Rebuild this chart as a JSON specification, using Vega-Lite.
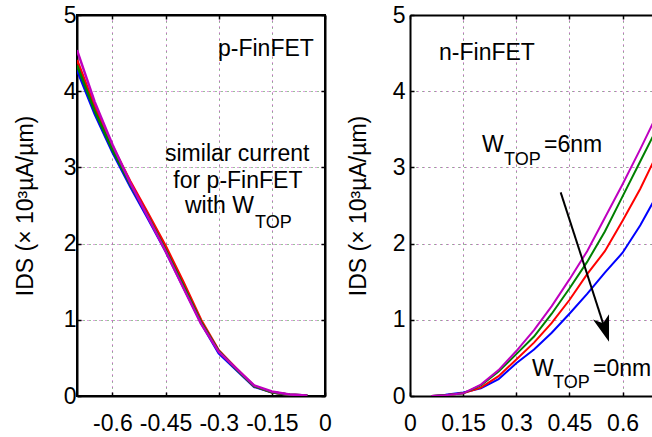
{
  "$schema": "https://vega.github.io/schema/vega-lite/v6.json",
  "padding": {"left": 13, "top": 3, "right": 0, "bottom": 0},
  "background": "white",
  "config": {
    "font": "Liberation Sans",
    "view": {"stroke": null},
    "axis": {
      "labelFont": "Liberation Sans", "labelFontSize": 23, "labelColor": "#000",
      "titleFont": "Liberation Sans", "titleFontSize": 23, "titleFontWeight": "normal", "titleColor": "#000",
      "domain": true, "domainColor": "#000", "domainWidth": 2, "tickColor": "#000", "tickWidth": 1.5, "tickSize": -4,
      "gridWidth": 1, "labelFlush": false, "labelOverlap": false
    },
    "text": {"font": "Liberation Sans", "color": "#000"}
  },
  "datasets": {
    "p": [
      {"W": "0nm", "v": -0.7, "I": 4.28}, {"W": "0nm", "v": -0.65, "I": 3.7}, {"W": "0nm", "v": -0.6, "I": 3.2}, {"W": "0nm", "v": -0.55, "I": 2.75}, {"W": "0nm", "v": -0.5, "I": 2.33}, {"W": "0nm", "v": -0.45, "I": 1.9}, {"W": "0nm", "v": -0.4, "I": 1.43}, {"W": "0nm", "v": -0.35, "I": 0.96}, {"W": "0nm", "v": -0.3, "I": 0.56}, {"W": "0nm", "v": -0.25, "I": 0.34}, {"W": "0nm", "v": -0.2, "I": 0.12}, {"W": "0nm", "v": -0.15, "I": 0.05}, {"W": "0nm", "v": -0.1, "I": 0.015}, {"W": "0nm", "v": -0.05, "I": 0.005},
      {"W": "2nm", "v": -0.7, "I": 4.41}, {"W": "2nm", "v": -0.65, "I": 3.8}, {"W": "2nm", "v": -0.6, "I": 3.28}, {"W": "2nm", "v": -0.55, "I": 2.82}, {"W": "2nm", "v": -0.5, "I": 2.4}, {"W": "2nm", "v": -0.45, "I": 1.97}, {"W": "2nm", "v": -0.4, "I": 1.5}, {"W": "2nm", "v": -0.35, "I": 1.0}, {"W": "2nm", "v": -0.3, "I": 0.6}, {"W": "2nm", "v": -0.25, "I": 0.36}, {"W": "2nm", "v": -0.2, "I": 0.13}, {"W": "2nm", "v": -0.15, "I": 0.05}, {"W": "2nm", "v": -0.1, "I": 0.015}, {"W": "2nm", "v": -0.05, "I": 0.005},
      {"W": "4nm", "v": -0.7, "I": 4.34}, {"W": "4nm", "v": -0.65, "I": 3.74}, {"W": "4nm", "v": -0.6, "I": 3.23}, {"W": "4nm", "v": -0.55, "I": 2.78}, {"W": "4nm", "v": -0.5, "I": 2.36}, {"W": "4nm", "v": -0.45, "I": 1.92}, {"W": "4nm", "v": -0.4, "I": 1.45}, {"W": "4nm", "v": -0.35, "I": 0.97}, {"W": "4nm", "v": -0.3, "I": 0.59}, {"W": "4nm", "v": -0.25, "I": 0.35}, {"W": "4nm", "v": -0.2, "I": 0.13}, {"W": "4nm", "v": -0.15, "I": 0.05}, {"W": "4nm", "v": -0.1, "I": 0.015}, {"W": "4nm", "v": -0.05, "I": 0.005},
      {"W": "6nm", "v": -0.7, "I": 4.54}, {"W": "6nm", "v": -0.65, "I": 3.86}, {"W": "6nm", "v": -0.6, "I": 3.3}, {"W": "6nm", "v": -0.55, "I": 2.8}, {"W": "6nm", "v": -0.5, "I": 2.35}, {"W": "6nm", "v": -0.45, "I": 1.9}, {"W": "6nm", "v": -0.4, "I": 1.42}, {"W": "6nm", "v": -0.35, "I": 0.95}, {"W": "6nm", "v": -0.3, "I": 0.58}, {"W": "6nm", "v": -0.25, "I": 0.36}, {"W": "6nm", "v": -0.2, "I": 0.14}, {"W": "6nm", "v": -0.15, "I": 0.06}, {"W": "6nm", "v": -0.1, "I": 0.02}, {"W": "6nm", "v": -0.05, "I": 0.005}
    ],
    "n": [
      {"W": "0nm", "v": 0.065, "I": 0.0}, {"W": "0nm", "v": 0.1, "I": 0.015}, {"W": "0nm", "v": 0.15, "I": 0.045}, {"W": "0nm", "v": 0.2, "I": 0.1}, {"W": "0nm", "v": 0.25, "I": 0.22}, {"W": "0nm", "v": 0.3, "I": 0.43}, {"W": "0nm", "v": 0.35, "I": 0.61}, {"W": "0nm", "v": 0.4, "I": 0.83}, {"W": "0nm", "v": 0.45, "I": 1.08}, {"W": "0nm", "v": 0.5, "I": 1.34}, {"W": "0nm", "v": 0.55, "I": 1.62}, {"W": "0nm", "v": 0.6, "I": 1.88}, {"W": "0nm", "v": 0.65, "I": 2.24}, {"W": "0nm", "v": 0.7, "I": 2.66},
      {"W": "2nm", "v": 0.06, "I": 0.0}, {"W": "2nm", "v": 0.1, "I": 0.01}, {"W": "2nm", "v": 0.15, "I": 0.035}, {"W": "2nm", "v": 0.2, "I": 0.11}, {"W": "2nm", "v": 0.25, "I": 0.26}, {"W": "2nm", "v": 0.3, "I": 0.48}, {"W": "2nm", "v": 0.35, "I": 0.7}, {"W": "2nm", "v": 0.4, "I": 0.96}, {"W": "2nm", "v": 0.45, "I": 1.26}, {"W": "2nm", "v": 0.5, "I": 1.6}, {"W": "2nm", "v": 0.55, "I": 1.9}, {"W": "2nm", "v": 0.6, "I": 2.3}, {"W": "2nm", "v": 0.65, "I": 2.72}, {"W": "2nm", "v": 0.7, "I": 3.2},
      {"W": "4nm", "v": 0.06, "I": 0.0}, {"W": "4nm", "v": 0.1, "I": 0.01}, {"W": "4nm", "v": 0.15, "I": 0.035}, {"W": "4nm", "v": 0.2, "I": 0.14}, {"W": "4nm", "v": 0.25, "I": 0.32}, {"W": "4nm", "v": 0.3, "I": 0.55}, {"W": "4nm", "v": 0.35, "I": 0.78}, {"W": "4nm", "v": 0.4, "I": 1.08}, {"W": "4nm", "v": 0.45, "I": 1.41}, {"W": "4nm", "v": 0.5, "I": 1.76}, {"W": "4nm", "v": 0.55, "I": 2.16}, {"W": "4nm", "v": 0.6, "I": 2.62}, {"W": "4nm", "v": 0.65, "I": 3.08}, {"W": "4nm", "v": 0.7, "I": 3.54},
      {"W": "6nm", "v": 0.06, "I": 0.0}, {"W": "6nm", "v": 0.1, "I": 0.01}, {"W": "6nm", "v": 0.15, "I": 0.035}, {"W": "6nm", "v": 0.2, "I": 0.15}, {"W": "6nm", "v": 0.25, "I": 0.34}, {"W": "6nm", "v": 0.3, "I": 0.59}, {"W": "6nm", "v": 0.35, "I": 0.865}, {"W": "6nm", "v": 0.4, "I": 1.18}, {"W": "6nm", "v": 0.45, "I": 1.53}, {"W": "6nm", "v": 0.5, "I": 1.9}, {"W": "6nm", "v": 0.55, "I": 2.34}, {"W": "6nm", "v": 0.6, "I": 2.78}, {"W": "6nm", "v": 0.65, "I": 3.24}, {"W": "6nm", "v": 0.7, "I": 3.72}
    ],
    "notes": [
      {"panel": "p", "text": "p-FinFET", "v": -0.302, "I": 4.46},
      {"panel": "p", "text": "similar current", "v": -0.4516, "I": 3.09},
      {"panel": "p", "text": "for p-FinFET", "v": -0.428, "I": 2.73},
      {"panel": "p", "text": "with W", "v": -0.3952, "I": 2.4},
      {"panel": "n", "text": "n-FinFET", "v": 0.082, "I": 4.416},
      {"panel": "n", "text": "W", "v": 0.2032, "I": 3.198},
      {"panel": "n", "text": "=6nm", "v": 0.3782, "I": 3.198},
      {"panel": "n", "text": "W", "v": 0.3443, "I": 0.266},
      {"panel": "n", "text": "=0nm", "v": 0.5165, "I": 0.266}
    ],
    "subs": [
      {"panel": "p", "text": "TOP", "v": -0.1975, "I": 2.21},
      {"panel": "n", "text": "TOP", "v": 0.2653, "I": 3.035},
      {"panel": "n", "text": "TOP", "v": 0.4036, "I": 0.101}
    ],
    "arrow": [
      {"v": 0.4253, "I": 2.673, "v2": 0.5504, "I2": 0.875}
    ]
  },
  "spacing": 14,
  "hconcat": [
    {
      "width": 248, "height": 381,
      "view": {"stroke": "#000", "strokeWidth": 2},
      "layer": [
        {
          "layer": [
            {
              "data": {"name": "p"},
              "mark": {"type": "line", "strokeWidth": 2.5, "clip": true},
              "encoding": {
                "x": {"field": "v", "type": "quantitative", "scale": {"domain": [-0.7, 0], "nice": false, "zero": false},
                  "axis": {"orient": "bottom", "values": [-0.6, -0.45, -0.3, -0.15, 0], "labelExpr": "'' + datum.value", "title": null, "grid": true, "gridColor": "#2e8b2e", "gridDash": [1, 5], "labelPadding": 20, "domain": true}},
                "y": {"field": "I", "type": "quantitative", "scale": {"domain": [0, 5], "nice": false},
                  "axis": {"orient": "left", "values": [0, 1, 2, 3, 4, 5], "labelExpr": "'' + datum.value", "title": "IDS (× 10³µA/µm)", "grid": true, "gridColor": "#2e8b2e", "gridDash": [1, 5], "labelPadding": 5, "minExtent": 30, "maxExtent": 30, "titlePadding": 10, "domain": true}},
                "color": {"field": "W", "type": "nominal", "scale": {"domain": ["0nm", "2nm", "4nm", "6nm"], "range": ["#0000ff", "#ff0000", "#008000", "#bf00bf"]}, "legend": null}
              }
            },
            {
              "data": {"name": "notes"},
              "transform": [{"filter": "datum.panel == 'p'"}],
              "mark": {"type": "text", "align": "left", "baseline": "alphabetic", "fontSize": 23},
              "encoding": {"x": {"field": "v", "type": "quantitative"}, "y": {"field": "I", "type": "quantitative"}, "text": {"field": "text"}}
            },
            {
              "data": {"name": "subs"},
              "transform": [{"filter": "datum.panel == 'p'"}],
              "mark": {"type": "text", "align": "left", "baseline": "alphabetic", "fontSize": 18},
              "encoding": {"x": {"field": "v", "type": "quantitative"}, "y": {"field": "I", "type": "quantitative"}, "text": {"field": "text"}}
            }
          ]
        },
        {
          "data": {"name": "p"},
          "mark": {"type": "line", "opacity": 0},
          "encoding": {
            "x": {"field": "v", "type": "quantitative", "axis": {"orient": "top", "values": [-0.6, -0.45, -0.3, -0.15, 0], "labels": false, "title": null, "grid": true, "gridColor": "#c040c0", "gridDash": [1, 5], "gridDashOffset": 3, "domain": true}},
            "y": {"field": "I", "type": "quantitative", "axis": {"orient": "right", "values": [0, 1, 2, 3, 4, 5], "labels": false, "title": null, "grid": true, "gridColor": "#c040c0", "gridDash": [1, 5], "gridDashOffset": 3, "minExtent": 0, "maxExtent": 0, "domain": true}}
          }
        }
      ],
      "resolve": {"axis": {"x": "independent", "y": "independent"}}
    },
    {
      "width": 245, "height": 381,
      "layer": [
        {
          "layer": [
            {
              "data": {"name": "n"},
              "mark": {"type": "line", "strokeWidth": 2, "clip": true},
              "encoding": {
                "x": {"field": "v", "type": "quantitative", "scale": {"domain": [0, 0.6915], "nice": false, "zero": false},
                  "axis": {"orient": "bottom", "values": [0, 0.15, 0.3, 0.45, 0.6], "labelExpr": "'' + datum.value", "title": null, "grid": true, "gridColor": "#2e8b2e", "gridDash": [1, 5], "labelPadding": 20, "domain": true}},
                "y": {"field": "I", "type": "quantitative", "scale": {"domain": [0, 5], "nice": false},
                  "axis": {"orient": "left", "values": [0, 1, 2, 3, 4, 5], "labelExpr": "'' + datum.value", "title": "IDS (× 10³µA/µm)", "grid": true, "gridColor": "#2e8b2e", "gridDash": [1, 5], "labelPadding": 9, "minExtent": 30, "maxExtent": 30, "titlePadding": 10, "domain": true}},
                "color": {"field": "W", "type": "nominal", "scale": {"domain": ["0nm", "2nm", "4nm", "6nm"], "range": ["#0000ff", "#ff0000", "#008000", "#bf00bf"]}, "legend": null}
              }
            },
            {
              "data": {"name": "notes"},
              "transform": [{"filter": "datum.panel == 'n'"}],
              "mark": {"type": "text", "align": "left", "baseline": "alphabetic", "fontSize": 23},
              "encoding": {"x": {"field": "v", "type": "quantitative"}, "y": {"field": "I", "type": "quantitative"}, "text": {"field": "text"}}
            },
            {
              "data": {"name": "subs"},
              "transform": [{"filter": "datum.panel == 'n'"}],
              "mark": {"type": "text", "align": "left", "baseline": "alphabetic", "fontSize": 18},
              "encoding": {"x": {"field": "v", "type": "quantitative"}, "y": {"field": "I", "type": "quantitative"}, "text": {"field": "text"}}
            },
            {
              "data": {"name": "arrow"},
              "mark": {"type": "rule", "color": "#000", "strokeWidth": 2},
              "encoding": {"x": {"field": "v", "type": "quantitative"}, "y": {"field": "I", "type": "quantitative"}, "x2": {"field": "v2"}, "y2": {"field": "I2"}}
            },
            {
              "data": {"name": "arrow"},
              "mark": {"type": "point", "shape": "M0,1L-0.65,-1L0,-0.5L0.65,-1Z", "filled": true, "color": "#000", "opacity": 1, "size": 676, "angle": 342, "strokeWidth": 0},
              "encoding": {"x": {"field": "v2", "type": "quantitative"}, "y": {"field": "I2", "type": "quantitative"}}
            }
          ]
        },
        {
          "data": {"name": "n"},
          "mark": {"type": "line", "opacity": 0},
          "encoding": {
            "x": {"field": "v", "type": "quantitative", "axis": {"orient": "top", "values": [0, 0.15, 0.3, 0.45, 0.6], "labels": false, "title": null, "grid": true, "gridColor": "#c040c0", "gridDash": [1, 5], "gridDashOffset": 3, "domain": true}},
            "y": {"field": "I", "type": "quantitative", "axis": {"orient": "right", "values": [0, 1, 2, 3, 4, 5], "labels": false, "ticks": false, "domain": false, "title": null, "grid": true, "gridColor": "#c040c0", "gridDash": [1, 5], "gridDashOffset": 3, "minExtent": 0, "maxExtent": 0}}
          }
        }
      ],
      "resolve": {"axis": {"x": "independent", "y": "independent"}}
    }
  ]
}
